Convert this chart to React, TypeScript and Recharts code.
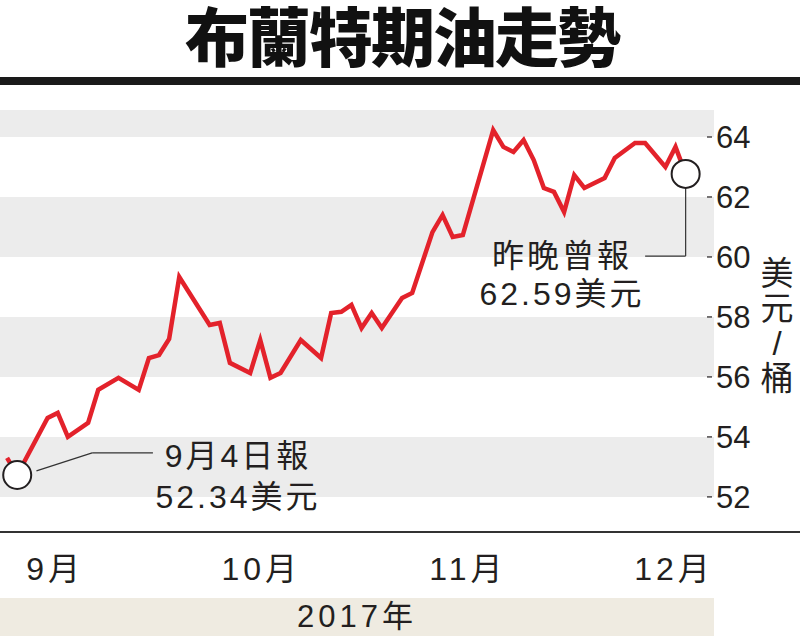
import React from "react";
import {
  LineChart,
  Line,
  XAxis,
  YAxis,
  ReferenceArea,
  ReferenceLine,
} from "recharts";

// trading-day index since 1 Sep 2017 (turning points)
const DAYS = [
  0, 1, 4, 5, 6, 8, 9, 11, 13, 14, 15, 16, 17, 20, 21, 22, 24, 25, 26, 27, 29,
  31, 32, 33, 34, 35, 36, 37, 39, 40, 42, 43, 44, 45, 48, 49, 50, 51, 52, 53,
  54, 55, 56, 57, 59, 60, 62, 63, 65, 66, 67,
];

// Brent futures, USD / barrel
const PRICES = [
  53.3, 52.73, 54.63, 54.8, 54.0, 54.47, 55.57, 55.97, 55.57, 56.63, 56.73,
  57.27, 59.33, 57.73, 57.8, 56.47, 56.13, 57.23, 55.97, 56.13, 57.23, 56.63,
  58.13, 58.17, 58.4, 57.63, 58.13, 57.63, 58.63, 58.8, 60.83, 61.4, 60.67,
  60.73, 64.23, 63.67, 63.5, 63.9, 63.23, 62.3, 62.17, 61.5, 62.73, 62.3,
  62.63, 63.3, 63.8, 63.8, 63.0, 63.67, 62.77,
];

const Y_TICKS = [52, 54, 56, 58, 60, 62, 64];
const GRAY_BANDS = [
  [52, 54],
  [56, 58],
  [60, 62],
  [64, 64.9],
];

const MONTH_TICKS = [4.75, 25.1, 45.5, 65.85];
const MONTH_LABELS = ["9月", "10月", "11月", "12月"];

// highlighted points: first quote (9月4日) and the latest one
const MARKED = [1, DAYS.length - 1];

// leader lines from the two circles to their notes
const LEADERS = [
  [
    { x: 2.9, y: 52.87 },
    { x: 8.4, y: 53.47 },
  ],
  [
    { x: 8.4, y: 53.47 },
    { x: 14.4, y: 53.47 },
  ],
  [
    { x: 67, y: 62.3 },
    { x: 67, y: 60.03 },
  ],
  [
    { x: 67, y: 60.03 },
    { x: 63, y: 60.03 },
  ],
];

const data = DAYS.map((d, i) => ({ d, v: PRICES[i] }));

const FONT = '"Liberation Sans", "Noto Sans CJK TC", sans-serif';
const INK = "#231f20";

const PriceTick = (props: any) => {
  const { x, y, payload } = props;
  return (
    <g>
      <line x1={x - 7} x2={x - 2} y1={y} y2={y} stroke={INK} strokeWidth={1.2} />
      <text x={x + 2} y={y + 11} fontSize={31} fill={INK} fontFamily={FONT}>
        {payload.value}
      </text>
    </g>
  );
};

const MonthTick = (props: any) => {
  const { x, y, index } = props;
  return (
    <text
      x={x}
      y={y + 46}
      textAnchor="middle"
      fontSize={32}
      letterSpacing={4}
      fill={INK}
      fontFamily={FONT}
    >
      {MONTH_LABELS[index]}
    </text>
  );
};

const MarkerDot = (props: any) => {
  const { cx, cy, index } = props;
  if (!MARKED.includes(index)) return <g key={`d${index}`} />;
  return (
    <circle
      key={`d${index}`}
      cx={cx}
      cy={cy}
      r={14}
      fill="#fff"
      stroke={INK}
      strokeWidth={2}
    />
  );
};

export default function App() {
  return (
    <div
      style={{
        position: "absolute",
        left: 0,
        top: 0,
        width: 800,
        height: 636,
        background: "#fff",
        overflow: "hidden",
        fontFamily: FONT,
        color: INK,
      }}
    >
      <div
        style={{
          position: "absolute",
          left: 150,
          width: 504,
          top: -5,
          height: 76,
          textAlign: "center",
          fontFamily: '"Noto Sans CJK TC", serif',
          fontWeight: 900,
          fontSize: 64,
          lineHeight: "76px",
          letterSpacing: -2,
          whiteSpace: "nowrap",
          color: "#111",
        }}
      >
        布蘭特期油走勢
      </div>
      <div
        style={{
          position: "absolute",
          left: 0,
          top: 77,
          width: 800,
          height: 8,
          background: "#1a1a1a",
        }}
      />

      {/* year strip */}
      <div
        style={{
          position: "absolute",
          left: 0,
          top: 598,
          width: 714,
          height: 38,
          background: "#efebe1",
          textAlign: "center",
          fontSize: 31,
          lineHeight: "38px",
          letterSpacing: 4,
        }}
      >
        2017年
      </div>

      <div style={{ position: "absolute", left: 0, top: 0 }}>
        <LineChart
          width={800}
          height={636}
          data={data}
          margin={{ top: 110, right: 0, bottom: 0, left: 0 }}
        >
          {GRAY_BANDS.map(([a, b]) => (
            <ReferenceArea
              key={a}
              y1={a}
              y2={b}
              fill="#ececec"
              fillOpacity={1}
              stroke="none"
              ifOverflow="visible"
            />
          ))}
          <XAxis
            dataKey="d"
            type="number"
            domain={[-0.7, 69.8]}
            allowDataOverflow
            ticks={MONTH_TICKS}
            interval={0}
            height={104}
            axisLine={false}
            tickLine={false}
            tickSize={0}
            tick={<MonthTick />}
          />
          <YAxis
            orientation="right"
            type="number"
            domain={[50.83, 64.9]}
            allowDataOverflow
            ticks={Y_TICKS}
            interval={0}
            width={86}
            axisLine={false}
            tickLine={false}
            tickSize={0}
            tickMargin={0}
            tick={<PriceTick />}
          />
          {LEADERS.map((seg, i) => (
            <ReferenceLine
              key={i}
              segment={seg}
              stroke="#333"
              strokeWidth={1.2}
              ifOverflow="visible"
            />
          ))}
          <Line
            type="linear"
            dataKey="v"
            stroke="#e3222b"
            strokeWidth={4.5}
            dot={<MarkerDot />}
            activeDot={false}
            isAnimationActive={false}
          />
        </LineChart>
      </div>

      {/* x axis rule runs the full width */}
      <div
        style={{
          position: "absolute",
          left: 0,
          top: 531,
          width: 800,
          height: 1.5,
          background: "#333",
        }}
      />

      {/* annotations */}
      <div
        style={{
          position: "absolute",
          left: 138,
          top: 436,
          width: 200,
          textAlign: "center",
          fontSize: 32,
          lineHeight: "41px",
          letterSpacing: 3,
        }}
      >
        9月4日報
        <br />
        52.34美元
      </div>
      <div
        style={{
          position: "absolute",
          left: 462,
          top: 237,
          width: 200,
          textAlign: "center",
          fontSize: 32,
          lineHeight: "38px",
          letterSpacing: 3,
        }}
      >
        昨晚曾報
        <br />
        62.59美元
      </div>

      {/* unit */}
      <div
        style={{
          position: "absolute",
          left: 760,
          top: 256,
          width: 34,
          textAlign: "center",
          fontSize: 33,
          lineHeight: "35px",
        }}
      >
        美<br />元<br />/<br />桶
      </div>
    </div>
  );
}
